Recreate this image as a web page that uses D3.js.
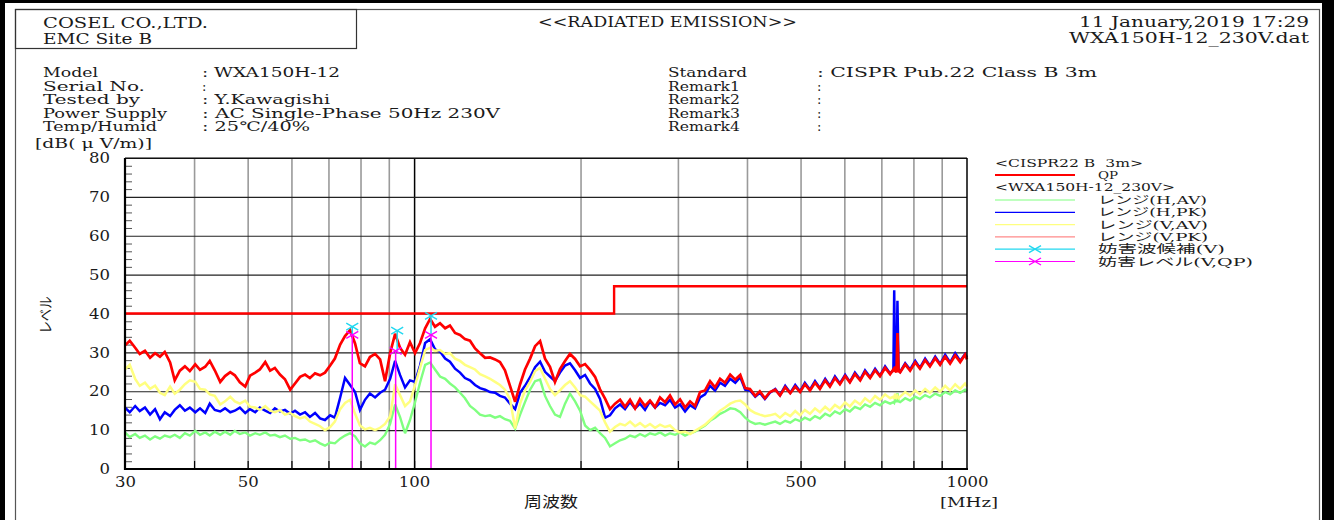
<!DOCTYPE html>
<html><head><meta charset="utf-8">
<script src="https://cdn.jsdelivr.net/npm/d3@7"></script>
<style>html,body{margin:0;padding:0;background:#fff;}svg{display:block;}</style>
</head><body>
<svg id="c" width="1334" height="520"></svg>
<script>
// ---------------- DATA ----------------
const freq = [
 30.0,30.6,31.3,31.9,32.6,33.3,34.0,34.7,35.4,36.2,
 36.9,37.7,38.5,39.3,40.2,41.0,41.9,42.7,43.6,44.6,
 45.5,46.5,47.4,48.4,49.5,50.5,51.6,52.6,53.8,54.9,
 56.0,57.2,58.4,59.7,60.9,62.2,63.5,64.8,66.2,67.6,
 69.0,70.5,71.9,73.5,75.0,76.6,78.2,79.8,81.5,83.2,
 85.0,86.8,88.6,90.5,92.4,94.3,96.3,98.3,100.4,102.5,
 104.7,106.9,109.1,111.4,113.8,116.1,118.6,121.1,123.6,126.2,
 128.9,131.6,134.4,137.2,140.1,143.0,146.0,149.1,152.3,155.5,
 158.7,162.1,165.5,169.0,172.5,176.1,179.8,183.6,187.5,191.4,
 195.5,199.6,203.8,208.1,212.5,216.9,221.5,226.1,230.9,235.8,
 240.7,245.8,251.0,256.2,261.6,267.1,272.8,278.5,284.4,290.3,
 296.5,302.7,309.1,315.6,322.2,329.0,335.9,343.0,350.2,357.6,
 365,373,381,389,397,405,414,422,431,440,
 450,459,469,479,489,499,509,520,531,542,
 554,565,577,589,602,614,627,641,654,668,
 682,696,711,726,736,738.5,741,745.5,748.5,752,757,773,789,806,822,
 840,857,876,894,913,932,952,972,992,1000
];
// レンジ(H,AV)
const hAV = [
 9.4,8.2,9.0,8.0,8.6,7.6,8.4,7.8,8.6,8.2,
 8.8,8.0,9.2,8.6,9.8,8.8,9.4,8.6,9.6,8.8,
 9.6,8.8,9.8,9.0,9.4,8.6,9.2,8.8,9.4,8.6,
 8.8,8.2,8.6,7.8,8.0,7.4,7.6,7.0,7.4,6.6,
 6.0,6.8,6.6,7.8,8.6,9.2,8.4,6.6,5.8,6.8,
 6.4,7.4,8.8,11.6,16.6,13.4,9.2,12.6,17.2,22.2,
 26.8,27.4,25.6,23.8,23.2,22.0,21.0,19.6,18.2,16.2,
 15.2,14.0,13.6,13.8,13.2,13.6,12.8,12.4,10.4,14.0,
 17.2,20.4,22.6,23.0,18.8,16.2,14.0,13.4,16.8,19.4,
 17.4,15.0,11.2,10.0,10.6,9.2,8.0,5.8,6.6,7.4,
 7.8,8.6,8.2,9.0,8.4,9.2,8.8,9.4,8.6,9.2,
 8.8,9.4,8.6,9.2,9.6,10.4,11.2,12.4,13.2,14.2,
 14.8,15.6,15.4,14.6,13.2,12.2,11.6,11.8,11.4,11.8,
 12.2,11.6,12.4,11.9,12.8,12.3,13.2,12.6,13.6,13.0,
 14.2,13.6,14.8,14.2,15.4,14.8,16.0,15.4,16.6,16.0,
 17.0,16.4,17.4,16.8,17.2,17.0,17.8,17.2,19.5,17.4,17.2,18.2,17.6,18.6,18.0,
 19.0,18.4,19.4,18.8,19.8,19.2,20.2,19.6,20.4,20.0
];
// レンジ(H,PK)
const hPK = [
 15.8,14.6,16.2,14.9,15.8,14.0,15.4,12.8,14.6,13.6,
 15.2,16.4,15.0,15.8,14.6,15.6,14.4,16.8,15.2,14.8,
 15.6,14.6,15.0,15.8,14.4,15.4,14.6,15.8,15.0,14.4,
 15.6,14.8,15.2,14.2,15.0,14.0,14.6,13.4,14.4,13.0,
 12.6,13.8,13.2,18.4,23.4,21.6,19.8,15.2,17.8,19.4,
 18.4,19.6,20.4,23.2,27.8,24.2,21.0,22.8,22.4,26.6,
 32.4,33.4,30.8,30.2,28.4,27.6,25.8,24.8,23.4,22.8,
 21.6,20.8,20.4,19.8,19.6,18.8,18.4,16.8,15.4,19.6,
 21.4,23.6,26.2,27.6,25.0,23.8,22.6,24.8,26.6,27.2,
 25.4,23.4,24.2,22.0,20.6,18.0,13.2,13.8,15.6,16.6,
 15.4,17.2,15.6,16.8,15.2,17.4,15.8,17.0,16.4,17.8,
 15.8,16.6,14.8,16.4,15.6,18.4,19.2,21.4,20.2,22.2,
 21.4,23.2,22.2,23.6,20.4,20.2,18.6,19.6,18.0,19.6,
 20.6,19.0,21.4,19.6,21.6,20.0,22.2,20.4,22.6,20.8,
 23.2,21.4,23.8,22.0,24.2,22.4,24.8,23.0,25.4,23.6,
 25.8,24.0,26.4,24.6,25.4,46.0,26.2,25.0,43.3,25.6,25.0,27.2,25.6,27.8,26.0,
 28.4,26.6,28.9,27.0,29.4,27.4,29.8,27.8,29.6,28.8
];
// レンジ(V,AV)
const vAV = [
 25.6,26.8,23.2,21.4,22.2,20.6,21.4,19.6,19.0,21.2,
 19.4,20.4,21.8,22.8,22.4,20.6,20.4,19.2,18.8,16.6,
 17.4,18.6,17.4,16.8,17.6,16.0,15.8,15.2,16.2,15.0,
 14.6,15.2,14.0,14.4,13.6,13.0,13.4,12.2,11.6,11.0,
 10.0,10.8,12.2,15.4,17.0,17.8,14.2,11.2,10.2,10.6,
 10.0,10.6,11.6,13.6,21.8,19.0,16.2,17.4,21.6,26.0,
 30.6,31.2,30.4,30.6,29.6,29.8,28.4,27.8,26.8,26.2,
 25.6,24.4,23.8,23.2,22.4,21.6,20.4,18.0,10.4,16.8,
 20.2,22.4,25.2,26.0,23.2,20.6,19.0,20.2,21.6,22.6,
 21.0,19.0,18.6,17.4,16.2,15.0,12.0,9.6,10.8,11.6,
 11.2,12.2,11.0,11.8,10.8,11.6,10.6,11.4,10.8,11.2,
 10.0,9.4,9.6,9.0,9.8,10.6,11.4,12.6,13.8,15.0,
 15.8,16.8,17.4,17.6,16.6,15.2,14.4,14.0,13.6,13.8,
 14.2,13.2,14.4,13.6,14.9,13.8,15.2,14.2,15.6,14.6,
 16.0,15.0,16.5,15.6,17.1,16.1,17.6,16.6,18.2,17.2,
 18.8,17.8,19.2,18.2,18.6,18.0,19.4,18.4,18.8,18.2,18.6,19.8,18.9,20.2,19.2,
 20.6,19.6,21.0,19.9,21.4,20.2,21.8,20.6,22.0,21.2
];
// レンジ(V,PK)
const vPK = [
 31.8,33.0,31.2,29.6,30.4,28.6,29.8,28.9,30.1,27.4,
 22.8,25.3,26.4,25.2,26.9,25.5,26.3,27.8,25.4,22.4,
 23.9,24.9,24.1,22.3,21.2,24.0,24.8,25.6,27.5,25.3,
 26.0,24.3,23.1,20.4,22.0,23.7,24.3,23.4,24.6,24.1,
 24.8,26.6,28.4,32.0,34.2,35.7,32.3,27.2,26.4,28.8,
 29.6,28.2,22.6,29.8,34.8,31.2,29.4,32.6,29.8,32.4,
 36.2,38.6,36.6,37.5,36.2,36.9,35.0,34.5,33.4,33.0,
 31.0,29.8,28.6,28.7,28.2,27.5,25.4,21.4,17.3,21.8,
 25.6,28.4,31.6,32.9,28.4,26.3,22.4,25.7,27.8,29.6,
 28.3,26.4,27.0,25.5,23.7,20.5,18.1,15.4,16.8,17.8,
 16.0,17.8,15.6,18.0,16.2,17.6,15.9,18.4,17.2,18.9,
 16.6,17.9,15.8,17.4,16.2,19.8,20.2,22.6,21.0,23.2,
 22.2,24.3,23.0,24.2,20.8,20.6,18.8,20.0,18.2,19.8,
 20.4,18.9,21.0,19.5,21.2,19.8,21.8,20.2,22.2,20.6,
 22.8,21.2,23.4,21.8,23.9,22.3,24.4,22.8,25.0,23.4,
 25.4,23.9,26.0,24.4,25.6,25.0,26.4,24.8,35.0,25.2,24.9,26.9,25.3,27.4,25.8,
 28.0,26.4,28.5,26.8,28.9,27.1,29.2,27.5,29.4,28.2
];
// CISPR22 B 3m QP limit
const limitFreq = [30, 230, 230, 1000];
const limitLevel = [40, 40, 47, 47];
// 妨害波候補(V)
const candFreq = [77.3, 93.2, 107.3];
const candLevel = [36.6, 35.6, 39.4];
// 妨害レベル(V,QP)
const qpFreq = [77.3, 92.6, 107.3];
const qpLevel = [34.5, 30.4, 34.5];
// ticks
const yTicks = [0, 10, 20, 30, 40, 50, 60, 70, 80];
const yMinor = [2,4,6,8,12,14,16,18,22,24,26,28,32,34,36,38,42,44,46,48,52,54,56,58,62,64,66,68,72,74,76,78];
const xTickLabels = [30, 50, 100, 500, 1000];
const xGrid = [40, 50, 60, 70, 80, 90, 200, 300, 400, 500, 600, 700, 800, 900];
const xMajorGrid = [100];
const legendTitle1 = "<CISPR22 B\u00a0\u00a03m>";
const legendTitle2 = "<WXA150H-12_230V>";
const legendNames = ["レンジ(H,AV)", "レンジ(H,PK)", "レンジ(V,AV)", "レンジ(V,PK)", "妨害波候補(V)", "妨害レベル(V,QP)"];

// ---------------- DRAW ----------------
const SERIF = "'DejaVu Serif','Liberation Serif','Noto Sans CJK JP',serif";
const JP = "'DejaVu Serif','Noto Sans CJK JP',sans-serif";
const svg = d3.select("#c");
const X0 = 125, X1 = 967, YT = 158, YB = 469;
const x = d3.scaleLog().domain([30, 1000]).range([X0, X1]);
const y = d3.scaleLinear().domain([0, 80]).range([YB, YT]);

const C = {green:"#80ff80", blue:"#0000ff", yellow:"#ffff80", red:"#ff0000", cyan:"#22d8f0", magenta:"#ff00ff"};

svg.append("rect").attr("width",1334).attr("height",520).attr("fill","#fff");

function txt(px, py, s, len, o = {}) {
  const t = svg.append("text").attr("x", px).attr("y", py).text(s)
    .attr("font-family", o.family || SERIF).attr("font-size", o.size || 13)
    .attr("fill", o.fill || "#1a1a1a");
  if (o.anchor) t.attr("text-anchor", o.anchor);
  if (len) t.attr("textLength", len).attr("lengthAdjust", "spacingAndGlyphs");
  return t;
}

// page frame
svg.append("rect").attr("x",0).attr("y",0).attr("width",5).attr("height",520).attr("fill","#000");
svg.append("rect").attr("x",0).attr("y",0).attr("width",1334).attr("height",3).attr("fill","#000");
svg.append("rect").attr("x",1322).attr("y",0).attr("width",12).attr("height",520).attr("fill","#000");
svg.append("rect").attr("x",15.5).attr("y",9.5).attr("width",1304).attr("height",540)
  .attr("fill","none").attr("stroke","#555").attr("stroke-width",1.2);
svg.append("rect").attr("x",15.5).attr("y",9.5).attr("width",341).attr("height",39)
  .attr("fill","none").attr("stroke","#333").attr("stroke-width",1.2);

// header
txt(43, 28, "COSEL CO.,LTD.", 165, {size:14});
txt(43, 44, "EMC Site B", 109, {size:14});
txt(538, 27, "<<RADIATED EMISSION>>", 259, {size:14});
txt(1309, 27, "11 January,2019 17:29", 230, {anchor:"end", size:14});
txt(1309, 43, "WXA150H-12_230V.dat", 240, {anchor:"end", size:14});

// info block
const rowsY = [77, 90.5, 104, 117.5, 131];
const infoL = [["Model",55],["Serial No.",102],["Tested by",97],["Power Supply",124],["Temp/Humid",114]];
const infoV = [[": WXA150H-12",138],[":",0],[": Y.Kawagishi",128],[": AC Single-Phase 50Hz 230V",298],[": 25℃/40%",108]];
const infoR = [["Standard",79],["Remark1",72],["Remark2",72],["Remark3",72],["Remark4",72]];
const infoRV = [[": CISPR Pub.22 Class B 3m",280],[":",0],[":",0],[":",0],[":",0]];
rowsY.forEach((ry,i)=>{
  txt(43, ry, infoL[i][0], infoL[i][1]);
  txt(202, ry, infoV[i][0], infoV[i][1] || null);
  txt(668, ry, infoR[i][0], infoR[i][1]);
  txt(817, ry, infoRV[i][0], infoRV[i][1] || null);
});
txt(35, 148, "[dB( μ V/m)]", 117);

// plot group
const g = svg.append("g");

// vertical grid
g.append("g").attr("transform",`translate(0,${YB})`)
  .call(d3.axisBottom(x).tickValues(xGrid).tickSize(-(YB-YT)).tickFormat(""))
  .call(s=>s.select(".domain").remove())
  .selectAll("line").attr("stroke","#9a9a9a").attr("stroke-width",1.6);
g.append("g").attr("transform",`translate(0,${YB})`)
  .call(d3.axisBottom(x).tickValues(xMajorGrid).tickSize(-(YB-YT)).tickFormat(""))
  .call(s=>s.select(".domain").remove())
  .selectAll("line").attr("stroke","#000").attr("stroke-width",1.5);
// horizontal grid
g.append("g").attr("transform",`translate(${X0},0)`)
  .call(d3.axisLeft(y).tickValues(yTicks).tickSize(-(X1-X0)).tickFormat(""))
  .call(s=>s.select(".domain").remove())
  .selectAll("line").attr("stroke","#222").attr("stroke-width",1.1);
// minor y ticks
g.append("g").attr("transform",`translate(${X0},0)`)
  .call(d3.axisLeft(y).tickValues(yMinor).tickSize(-7).tickFormat(""))
  .call(s=>s.select(".domain").remove())
  .selectAll("line").attr("stroke","#555").attr("stroke-width",1);
// bottom ticks
g.append("g").attr("transform",`translate(0,${YB})`)
  .call(d3.axisBottom(x).tickValues(xGrid.concat(xMajorGrid)).tickSize(-8).tickFormat(""))
  .call(s=>s.select(".domain").remove())
  .selectAll("line").attr("stroke","#000").attr("stroke-width",1.2);

// y labels
g.append("g").attr("transform",`translate(${X0},0)`)
  .call(d3.axisLeft(y).tickValues(yTicks).tickSize(0).tickPadding(15))
  .call(s=>s.select(".domain").remove())
  .selectAll("text").attr("font-family",SERIF).attr("font-size",14.5).attr("fill","#1a1a1a")
  .attr("textLength", d=>String(d).length*10.5).attr("lengthAdjust","spacingAndGlyphs");
// x labels
g.append("g").attr("transform",`translate(0,${YB})`)
  .call(d3.axisBottom(x).tickValues(xTickLabels).tickSize(0).tickPadding(8).tickFormat(d3.format("d")))
  .call(s=>s.select(".domain").remove())
  .selectAll("text").attr("font-family",SERIF).attr("font-size",14.5).attr("fill","#1a1a1a")
  .attr("textLength", d=>String(d).length*10.5).attr("lengthAdjust","spacingAndGlyphs");

// axis titles
txt(551, 507, "周波数", 54, {anchor:"middle", family:"'Noto Sans CJK JP',sans-serif", size:15});
txt(940, 507, "[MHz]", 58);
svg.append("text").attr("transform","translate(51,315) rotate(-90)")
  .attr("text-anchor","middle").attr("font-family","'Noto Sans CJK JP',sans-serif")
  .attr("font-size",15).attr("fill","#1a1a1a").attr("textLength",37).attr("lengthAdjust","spacingAndGlyphs")
  .text("レベル");

// limit
const limLine = d3.line().x((d,i)=>x(limitFreq[i])).y((d,i)=>y(limitLevel[i]));
g.append("path").attr("d", limLine(limitFreq)).attr("fill","none")
  .attr("stroke",C.red).attr("stroke-width",2.4);

// traces
const series = [[hAV,C.green,2.4],[hPK,C.blue,2.5],[vAV,C.yellow,2.5],[vPK,C.red,2.7]];
series.forEach(([vals,col,w])=>{
  const ln = d3.line().x((d,i)=>x(freq[i])).y(d=>y(d));
  g.append("path").attr("d", ln(vals)).attr("fill","none")
    .attr("stroke",col).attr("stroke-width",w).attr("stroke-linejoin","miter").attr("stroke-miterlimit",3);
});

// markers
function cross(sel, cx, cy, col) {
  sel.append("path").attr("d",`M${cx-6},${cy-3.5}L${cx+6},${cy+3.5}M${cx-6},${cy+3.5}L${cx+6},${cy-3.5}`)
    .attr("stroke",col).attr("stroke-width",1.4).attr("fill","none");
}
candFreq.forEach((f,i)=>{
  g.append("line").attr("x1",x(f)).attr("x2",x(f)).attr("y1",y(candLevel[i])).attr("y2",y(qpLevel[i]))
    .attr("stroke",C.cyan).attr("stroke-width",1.5);
});
qpFreq.forEach((f,i)=>{
  g.append("line").attr("x1",x(f)).attr("x2",x(f)).attr("y1",y(qpLevel[i])).attr("y2",YB)
    .attr("stroke",C.magenta).attr("stroke-width",1.5);
});
candFreq.forEach((f,i)=>cross(g, x(f), y(candLevel[i]), C.cyan));
qpFreq.forEach((f,i)=>cross(g, x(f), y(qpLevel[i]), C.magenta));

// plot frame
g.append("line").attr("x1",X0).attr("x2",X1).attr("y1",YT).attr("y2",YT).attr("stroke","#000").attr("stroke-width",1.2);
g.append("line").attr("x1",X1).attr("x2",X1).attr("y1",YT).attr("y2",YB).attr("stroke","#000").attr("stroke-width",1.5);
g.append("line").attr("x1",X0).attr("x2",X0).attr("y1",YT).attr("y2",YB+1).attr("stroke","#000").attr("stroke-width",2.2);
g.append("line").attr("x1",X0-1).attr("x2",X1+1).attr("y1",YB).attr("y2",YB).attr("stroke","#000").attr("stroke-width",2.2);

// legend
const LX0 = 995, LX1 = 1075, LT = 1098;
txt(LX0, 167, legendTitle1, 148, {size:11});
svg.append("line").attr("x1",LX0).attr("x2",LX1).attr("y1",175).attr("y2",175).attr("stroke",C.red).attr("stroke-width",2.2);
txt(LT, 178.5, "QP", 20, {size:11});
txt(LX0, 191, legendTitle2, 180, {size:11});
const legCols = [C.green, C.blue, C.yellow, "#ff8a8a", C.cyan, C.magenta];
const legW = [109, 109, 110, 110, 127, 155];
legendNames.forEach((nm,i)=>{
  const ly = 200 + i*12.3;
  svg.append("line").attr("x1",LX0).attr("x2",LX1).attr("y1",ly).attr("y2",ly)
    .attr("stroke",legCols[i]).attr("stroke-width",1.2);
  if (i>=4) cross(svg, 1035, ly, legCols[i]);
  txt(LT, ly+4, nm, legW[i], {size:11, family:JP});
});
</script>
</body></html>
